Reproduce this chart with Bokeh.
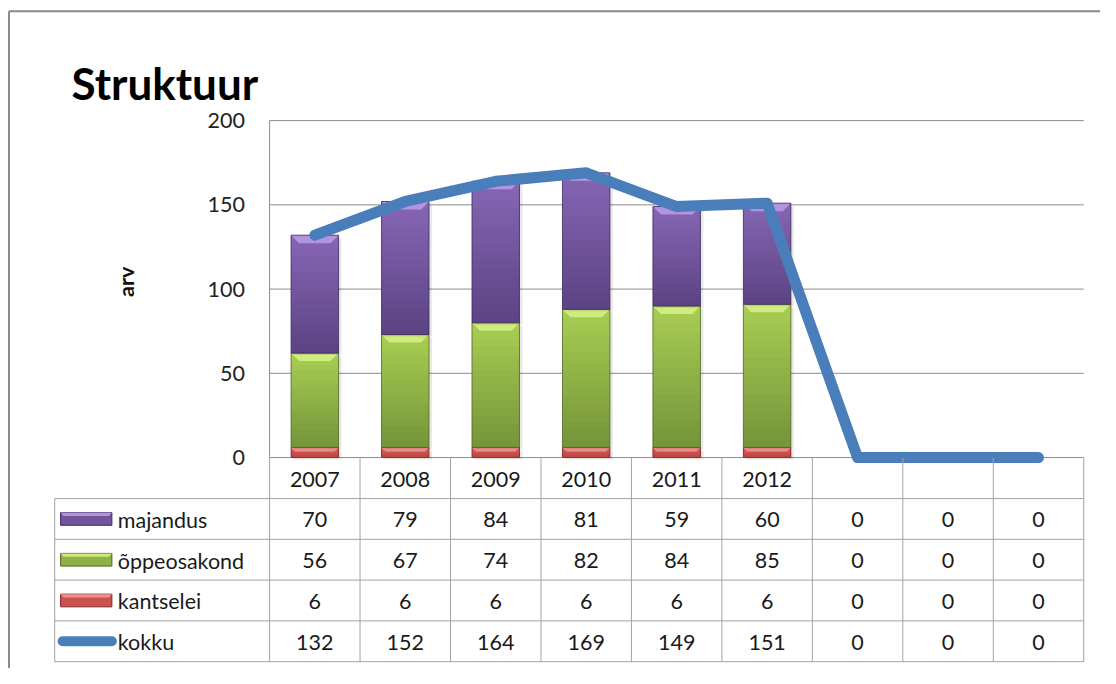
from bokeh.plotting import figure
from bokeh.models import Range1d
from bokeh.embed import file_html
from bokeh.resources import INLINE
from bokeh.core.properties import value
import math

# ---- data ----
categories = ["2007", "2008", "2009", "2010", "2011", "2012", "", "", ""]
majandus = [70, 79, 84, 81, 59, 60, 0, 0, 0]
oppeosakond = [56, 67, 74, 82, 84, 85, 0, 0, 0]
kantselei = [6, 6, 6, 6, 6, 6, 0, 0, 0]
kokku = [132, 152, 164, 169, 149, 151, 0, 0, 0]
series_names = ["majandus", "õppeosakond", "kantselei", "kokku"]
y_ticks = [0, 50, 100, 150, 200]
title_text = "Struktuur"
y_label = "arv"

# ---- layout: positions given in reference-image pixels (1116 x 684), scaled to figure ----
W, H = 1100, 668
RW, RH_IMG = 1116, 684
SX, SY = W / RW, H / RH_IMG
PL, PR, PT, PB = 273, 1099, 123, 468
N = len(categories)
CW = (PR - PL) * SX / N          # figure px per category
YMAX = y_ticks[-1]
VH = (PB - PT) * SY / YMAX       # figure px per value unit
x0 = -0.5 - PL * SX / CW
x1 = x0 + W / CW
ytop = YMAX + PT * SY / VH
ybot = ytop - H / VH


def X(rpx):
    return x0 + rpx * SX / CW


def Y(rpy):
    return ytop - rpy * SY / VH


FONT = "Lato"
GRID = "#8C8C8C"
TAB = "#A3A3A3"
FS = "21.5px"

p = figure(width=W, height=H, x_range=Range1d(x0, x1), y_range=Range1d(ybot, ytop),
           output_backend="svg", toolbar_location=None, min_border=0,
           x_axis_type=None, y_axis_type=None, outline_line_color=None,
           background_fill_color="white", border_fill_color="white")
p.grid.visible = False

# outer chart border
p.segment(x0=[X(8.6), X(8.6)], y0=[Y(11), Y(11)], x1=[X(8.6), X(RW)], y1=[Y(RH_IMG), Y(11)],
          line_color="#8A8A8A", line_width=2)

# gridlines
p.segment(x0=[-0.5] * len(y_ticks), x1=[N - 0.5] * len(y_ticks), y0=y_ticks, y1=y_ticks,
          line_color=GRID, line_width=1)
# value axis line
p.segment(x0=[-0.5], x1=[-0.5], y0=[0], y1=[YMAX], line_color=GRID, line_width=1)

# y tick labels
p.text(x=[X(248)] * len(y_ticks), y=y_ticks, text=[str(t) for t in y_ticks],
       text_font=value(FONT), text_font_size=FS, text_align="right",
       text_baseline="middle", text_color="#222222")

# y label
p.text(x=[X(127)], y=[Y(288)], text=[y_label], angle=math.pi / 2,
       text_font=value(FONT), text_font_size=FS, text_font_style="bold",
       text_align="center", text_baseline="middle", text_color="#111111")

# title
p.text(x=[X(72)], y=[Y(84)], text=[title_text], text_font=value(FONT),
       text_font_size="44px", text_font_style="bold", text_align="left",
       text_baseline="alphabetic", text_color="#000000")


def hex2rgb(h):
    h = h.lstrip("#")
    return tuple(int(h[i:i + 2], 16) for i in (0, 2, 4))


def lerp(c1, c2, t):
    a, b = hex2rgb(c1), hex2rgb(c2)
    return "#%02x%02x%02x" % tuple(round(a[i] + (b[i] - a[i]) * t) for i in range(3))


# ---- stacked bars ----
BW = 0.525
idx = list(range(N))
SERIES_STYLE = {
    "kantselei": ("#E0625E", "#B8423F", "#F6A3A0", "#7F2A28"),
    "õppeosakond": ("#A9CE52", "#74943A", "#DDF58E", "#4F6624"),
    "majandus": ("#8766B5", "#5B4383", "#C2A6EE", "#3C2A5C"),
}
stack = [("kantselei", kantselei), ("õppeosakond", oppeosakond), ("majandus", majandus)]
NS = 16
OV = 1.2 / VH
base = [0] * N
for name, vals in stack:
    ctop, cbot, light, dark = SERIES_STYLE[name]
    tops = [b + v for b, v in zip(base, vals)]
    xs = [i for i, v in zip(idx, vals) if v > 0]
    bs = [b for b, v in zip(base, vals) if v > 0]
    ts = [t for t, v in zip(tops, vals) if v > 0]
    L = [x - BW / 2 for x in xs]
    R = [x + BW / 2 for x in xs]
    # soft shadow
    p.quad(left=[l + 3 / CW for l in L], right=[r + 3 / CW for r in R],
           bottom=[b - 2 / VH for b in bs], top=[t - 3 / VH for t in ts],
           fill_color="#000000", fill_alpha=0.09, line_color=None)
    # vertical gradient (light top -> dark bottom); slices overlap to avoid seams
    gl, gr, gb, gt, gc = [], [], [], [], []
    for l, r, b, t in zip(L, R, bs, ts):
        for k in range(NS):
            gl.append(l)
            gr.append(r)
            gb.append(b + (t - b) * k / NS)
            gt.append(min(t, b + (t - b) * (k + 1) / NS + OV))
            gc.append(lerp(cbot, ctop, (k + 0.5) / NS))
    p.quad(left=gl, right=gr, bottom=gb, top=gt, fill_color=gc, line_color=None)
    # bevel highlight trapezoid at top
    bx, by = [], []
    for l, r, b, t in zip(L, R, bs, ts):
        hpx = min(8.0, (t - b) * VH * 0.4)
        h = hpx / VH
        ins = hpx / CW
        bx.append([l, r, r - ins, l + ins])
        by.append([t, t, t - h, t - h])
    p.patches(xs=bx, ys=by, fill_color=light, fill_alpha=0.75, line_color=None)
    # outline
    p.quad(left=L, right=R, bottom=bs, top=ts, fill_color=None, line_color=dark,
           line_alpha=0.8, line_width=1)
    base = tops

# total line
p.line(x=idx, y=kokku, line_color="#4A7EBB", line_width=11, line_cap="round",
       line_join="round")

# ---- data table ----
HT, HB = PB, 510
RH = 41.75
TL = 55
rows_top = [HB + r * RH for r in range(5)]
colx = [k - 0.5 for k in range(N + 1)]
# header row verticals
p.segment(x0=colx, x1=colx, y0=[Y(HT)] * (N + 1), y1=[Y(HB)] * (N + 1),
          line_color=TAB, line_width=1)
# row horizontals
p.segment(x0=[X(TL)] * 5, x1=[N - 0.5] * 5, y0=[Y(r) for r in rows_top],
          y1=[Y(r) for r in rows_top], line_color=TAB, line_width=1)
# row verticals
vx = [X(TL)] + colx
p.segment(x0=vx, x1=vx, y0=[Y(HB)] * len(vx), y1=[Y(rows_top[-1])] * len(vx),
          line_color=TAB, line_width=1)

# header labels
p.text(x=idx, y=[Y((HT + HB) / 2 + 1.5)] * N, text=categories, text_font=value(FONT),
       text_font_size=FS, text_align="center", text_baseline="middle",
       text_color="#1a1a1a")

table_values = [majandus, oppeosakond, kantselei, kokku]
for r, (name, vals) in enumerate(zip(series_names, table_values)):
    cy = Y(HB + (r + 0.5) * RH + 1)
    p.text(x=idx, y=[cy] * N, text=[str(v) for v in vals], text_font=value(FONT),
           text_font_size=FS, text_align="center", text_baseline="middle",
           text_color="#1a1a1a")
    p.text(x=[X(119)], y=[cy], text=[name], text_font=value(FONT),
           text_font_size=FS, text_align="left", text_baseline="middle",
           text_color="#1a1a1a")

# legend keys
for r, name in enumerate(series_names[:3]):
    ctop, cbot, light, dark = SERIES_STYLE[name]
    cy = HB + (r + 0.5) * RH
    p.quad(left=[X(61)], right=[X(113)], bottom=[Y(cy + 6.5)], top=[Y(cy - 6.5)],
           fill_color=lerp(cbot, ctop, 0.5), line_color=dark, line_width=1)
    p.patches(xs=[[X(61), X(113), X(110), X(64)]],
              ys=[[Y(cy - 6.5), Y(cy - 6.5), Y(cy - 3), Y(cy - 3)]],
              fill_color=light, fill_alpha=0.8, line_color=None)
cy = HB + 3.5 * RH
p.segment(x0=[X(63)], x1=[X(113)], y0=[Y(cy)], y1=[Y(cy)], line_color="#4A7EBB",
          line_width=10, line_cap="round")

open("out.html", "w").write(file_html(p, INLINE))
